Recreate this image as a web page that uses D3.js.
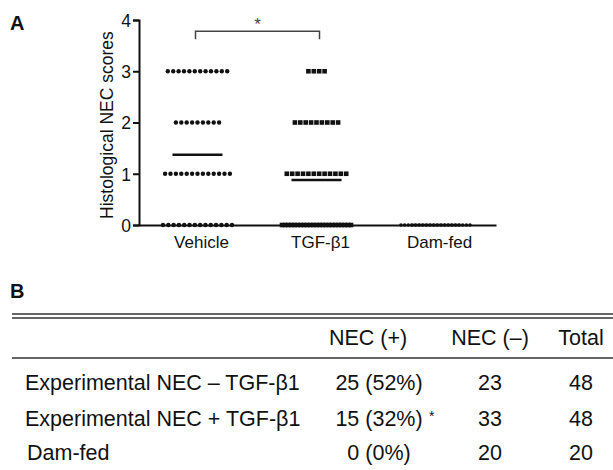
<!DOCTYPE html>
<html>
<head>
<meta charset="utf-8">
<script src="https://cdn.jsdelivr.net/npm/d3@7"></script>
<style>
  body { margin: 0; background: #fff; }
  text { font-family: "Liberation Sans", Arial, sans-serif; fill: #111; }
</style>
</head>
<body>
<svg id="chart" width="613" height="470"></svg>
<script>
// panel A data: number of animals at each score (0,1,2,3)
var groups = ["Vehicle", "TGF-\u03b21", "Dam-fed"];
var scores = [0, 1, 2, 3];
var vehicleCounts = [14, 13, 9, 12];
var tgfCounts = [23, 12, 9, 4];
var damCounts = [20, 0, 0, 0];
var groupMeans = [1.37, 0.89, 0];
var yTicks = [0, 1, 2, 3, 4];

// panel B table
var tableHeader = ["NEC (+)", "NEC (\u2013)", "Total"];
var rowLabels = ["Experimental NEC \u2013 TGF-\u03b21", "Experimental NEC + TGF-\u03b21", "Dam-fed"];
var necPos = ["25 (52%)", "15 (32%)", "0 (0%)"];
var necPosMark = ["", "*", ""];
var necNeg = ["23", "33", "20"];
var totals = ["48", "48", "20"];

var svg = d3.select("#chart");

var x = d3.scaleBand().domain(groups).range([139, 496]);
var y = d3.scaleLinear().domain([0, 4]).range([225, 20]);

// panel letters
svg.append("text").attr("x", 10).attr("y", 30)
  .style("font-size", "20px").style("font-weight", "bold").text("A");
svg.append("text").attr("x", 10).attr("y", 298)
  .style("font-size", "20px").style("font-weight", "bold").text("B");

// y axis
var yAxis = svg.append("g").attr("transform", "translate(139,0)")
  .call(d3.axisLeft(y).tickValues(yTicks).tickSize(6).tickFormat(d3.format("d")));
yAxis.attr("font-size", null).attr("font-family", null);
yAxis.select(".domain").attr("stroke", "#111").attr("stroke-width", 2);
yAxis.selectAll(".tick line").attr("stroke", "#111").attr("stroke-width", 2);
yAxis.selectAll(".tick text").attr("x", -8).attr("dy", "0.36em")
  .style("font-size", "17.5px").attr("fill", "#111");

// x axis line + labels
var xAxis = svg.append("g").attr("transform", "translate(0,225)")
  .call(d3.axisBottom(x).tickSize(0).tickSizeOuter(0));
xAxis.attr("font-size", null).attr("font-family", null);
xAxis.select(".domain").attr("stroke", "#111").attr("stroke-width", 2);
xAxis.selectAll(".tick text").attr("x", 3).attr("y", 11).attr("dy", "0.71em")
  .style("font-size", "17px").attr("fill", "#111");

svg.append("text")
  .attr("transform", "translate(113," + y(1.95) + ") rotate(-90)")
  .attr("text-anchor", "middle")
  .style("font-size", "17.5px")
  .text("Histological NEC scores");

// expand counts into points spread sideways like a scatter-dot plot
function spread(counts, gi) {
  var pts = [];
  counts.forEach(function (n, si) {
    var step = n > 1 ? Math.min(5.4, 69 / (n - 1)) : 0;
    for (var k = 0; k < n; k++) {
      pts.push({
        cx: x(groups[gi]) + x.bandwidth() / 2 - 1 + (k - (n - 1) / 2) * step,
        cy: y(scores[si])
      });
    }
  });
  return pts;
}

var vehPts = spread(vehicleCounts, 0);
var tgfPts = spread(tgfCounts, 1);
var damPts = spread(damCounts, 2);

svg.append("g").selectAll("circle").data(vehPts).enter().append("circle")
  .attr("cx", function (d) { return d.cx; })
  .attr("cy", function (d) { return d.cy; })
  .attr("r", 2.2).attr("fill", "#111");

svg.append("g").selectAll("rect").data(tgfPts).enter().append("rect")
  .attr("x", function (d) { return d.cx - 2.3; })
  .attr("y", function (d) { return d.cy - 2.3; })
  .attr("width", 4.6).attr("height", 4.6).attr("fill", "#111");

svg.append("g").selectAll("circle").data(damPts).enter().append("circle")
  .attr("cx", function (d) { return d.cx; })
  .attr("cy", function (d) { return d.cy; })
  .attr("r", 1.8).attr("fill", "#111");

// mean lines
svg.append("g").selectAll("line").data(groupMeans).enter().append("line")
  .attr("x1", function (d, i) { return x(groups[i]) + x.bandwidth() / 2 - 26; })
  .attr("x2", function (d, i) { return x(groups[i]) + x.bandwidth() / 2 + 24; })
  .attr("y1", function (d, i) { return y(d) + (i === 1 ? 0.5 : 0); })
  .attr("y2", function (d, i) { return y(d) + (i === 1 ? 0.5 : 0); })
  .attr("stroke", "#111").attr("stroke-width", 2.5);

// significance bracket Vehicle vs TGF
var bx1 = x(groups[0]) + x.bandwidth() / 2 - 3,
  bx2 = x(groups[1]) + x.bandwidth() / 2 + 2,
  by = y(3.78);
svg.append("path")
  .attr("d", "M" + bx1 + "," + (by + 8) + "V" + by + "H" + bx2 + "V" + (by + 8))
  .attr("fill", "none").attr("stroke", "#444").attr("stroke-width", 1.5);
svg.append("text").attr("x", (bx1 + bx2) / 2).attr("y", by - 1)
  .attr("text-anchor", "middle").style("font-size", "17px").style("fill", "#444").text("*");

// table (panel B)
var tbl = svg.append("g");
var rule = function (yy, w) {
  tbl.append("line").attr("x1", 12).attr("x2", 613).attr("y1", yy).attr("y2", yy)
    .attr("stroke", "#333").attr("stroke-width", w);
};
rule(314, 1.5);
rule(318, 1.5);
rule(358, 1.5);

var fs = "21.5px";
var colX = [368, 490, 581];
tbl.selectAll(".hdr").data(tableHeader).enter().append("text")
  .attr("class", "hdr").attr("x", function (d, i) { return colX[i]; }).attr("y", 345)
  .attr("text-anchor", "middle").style("font-size", fs).text(function (d) { return d; });

var rowY = [390, 426, 460];
tbl.selectAll(".lbl").data(rowLabels).enter().append("text")
  .attr("x", function (d, i) { return i === 2 ? 27 : 25; })
  .attr("y", function (d, i) { return rowY[i]; })
  .style("font-size", fs).text(function (d) { return d; });

tbl.selectAll(".pos").data(necPos).enter().append("text")
  .attr("x", 379).attr("y", function (d, i) { return rowY[i]; })
  .attr("text-anchor", "middle").style("font-size", fs).text(function (d) { return d; });

tbl.selectAll(".mark").data(necPosMark).enter().append("text")
  .attr("x", 429).attr("y", function (d, i) { return rowY[i] - 5; })
  .style("font-size", "14px").text(function (d) { return d; });

tbl.selectAll(".neg").data(necNeg).enter().append("text")
  .attr("x", colX[1]).attr("y", function (d, i) { return rowY[i]; })
  .attr("text-anchor", "middle").style("font-size", fs).text(function (d) { return d; });

tbl.selectAll(".tot").data(totals).enter().append("text")
  .attr("x", colX[2]).attr("y", function (d, i) { return rowY[i]; })
  .attr("text-anchor", "middle").style("font-size", fs).text(function (d) { return d; });
</script>
</body>
</html>
